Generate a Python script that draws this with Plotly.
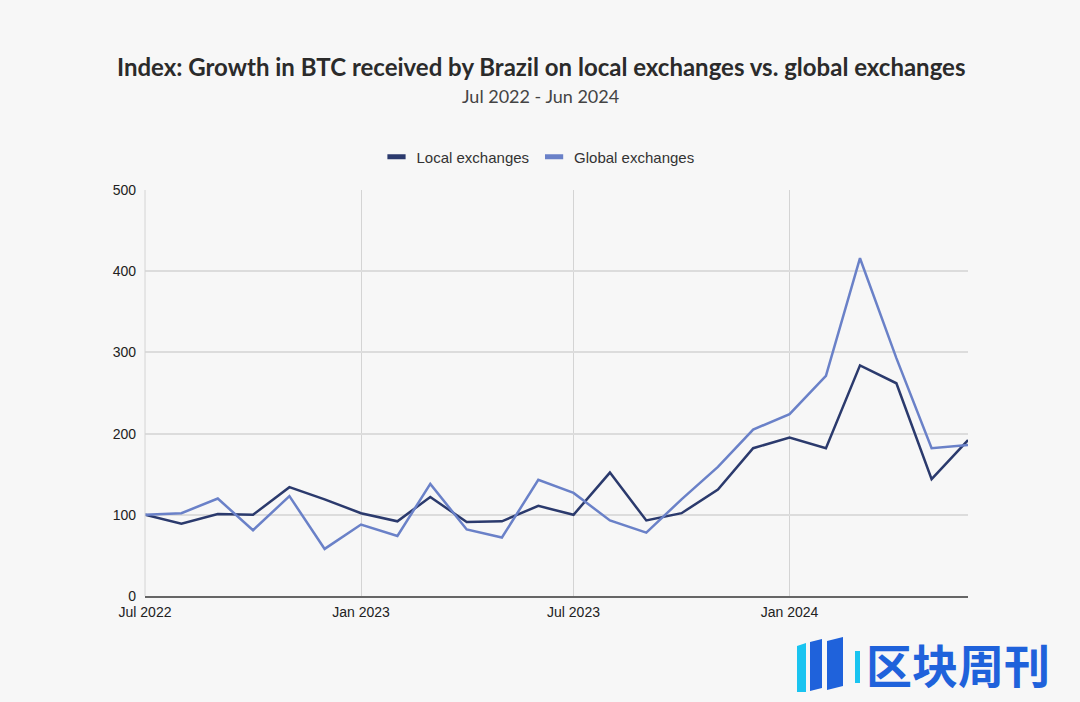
import plotly.graph_objects as go

months = ["2022-07-01","2022-08-01","2022-09-01","2022-10-01","2022-11-01","2022-12-01",
          "2023-01-01","2023-02-01","2023-03-01","2023-04-01","2023-05-01","2023-06-01",
          "2023-07-01","2023-08-01","2023-09-01","2023-10-01","2023-11-01","2023-12-01",
          "2024-01-01","2024-02-01","2024-03-01","2024-04-01","2024-05-01","2024-06-01"]
local_ex = [100, 89, 101, 100, 134, 119, 102, 92, 122, 91, 92, 111,
            100, 152, 93, 102, 131, 182, 195, 182, 284, 262, 144, 192]
global_ex = [100, 102, 120, 81, 123, 58, 88, 74, 138, 82, 72, 143,
             127, 93, 78, 119, 159, 205, 224, 271, 416, 293, 182, 186]
tick_vals = ["2022-07-01", "2023-01-01", "2023-07-01", "2024-01-01"]
tick_text = ["Jul 2022", "Jan 2023", "Jul 2023", "Jan 2024"]

DARK = "#2b3a6d"
LIGHT = "#6a81c8"
BG = "#f7f7f7"

W, H = 1080, 702
ML, MR, MT, MB = 145, 112, 190, 106
PW, PH = W - ML - MR, H - MT - MB


def px(x):
    return (x - ML) / PW


def py(y):
    return (H - MB - y) / PH


fig = go.Figure()
fig.add_trace(go.Scatter(x=months, y=local_ex, mode="lines", name="Local exchanges",
                         line=dict(color=DARK, width=2.5), showlegend=False))
fig.add_trace(go.Scatter(x=months, y=global_ex, mode="lines", name="Global exchanges",
                         line=dict(color=LIGHT, width=2.5), showlegend=False))
for nm, col in [("Local exchanges", DARK), ("Global exchanges", LIGHT)]:
    fig.add_trace(go.Scatter(x=[None], y=[None], mode="markers", name=nm,
                             marker=dict(symbol="line-ew", size=13, color=col,
                                         line=dict(color=col, width=5))))

annotations = [
    dict(text="<b>Index: Growth in BTC received by Brazil on local exchanges vs. global exchanges</b>",
         xref="paper", yref="paper", x=px(541), y=py(67),
         xanchor="center", yanchor="middle", showarrow=False,
         font=dict(family="Lato", size=24, color="#2b2b2b")),
    dict(text="Jul 2022 - Jun 2024", xref="paper", yref="paper", x=px(540), y=py(96),
         xanchor="center", yanchor="middle", showarrow=False,
         font=dict(family="Lato", size=18, color="#444")),
    dict(text="<b>区块周刊</b>", xref="paper", yref="paper", x=px(1052), y=py(663),
         xanchor="right", yanchor="middle", showarrow=False,
         font=dict(family="Noto Sans CJK SC", size=46, color="#1f62db")),
]

shapes = [
    dict(type="line", xref="paper", yref="paper", x0=0, x1=0, y0=0, y1=1,
         line=dict(color="#d4d4d4", width=1)),
]
logo = [
    ([(797, 646), (806, 643), (806, 692), (797, 692)], "#19c4f0"),
    ([(810, 642), (822, 639), (822, 688), (810, 691)], "#1f62db"),
    ([(827, 641), (843, 637), (843, 686), (827, 690)], "#1f62db"),
    ([(855, 651), (860, 651), (860, 683), (855, 683)], "#19c4f0"),
]
for pts, col in logo:
    path = "M " + " L ".join(f"{px(a):.5f},{py(b):.5f}" for a, b in pts) + " Z"
    shapes.append(dict(type="path", xref="paper", yref="paper", path=path,
                       fillcolor=col, line=dict(width=0)))

fig.update_layout(
    width=W, height=H,
    paper_bgcolor=BG, plot_bgcolor=BG,
    margin=dict(l=ML, r=MR, t=MT, b=MB),
    legend=dict(orientation="h", x=px(538), xanchor="center", y=py(157), yanchor="middle",
                font=dict(family="Liberation Sans", size=15, color="#333"),
                itemwidth=30, bgcolor="rgba(0,0,0,0)"),
    font=dict(family="Liberation Sans", size=14, color="#222"),
    annotations=annotations,
    shapes=shapes,
)
fig.update_xaxes(
    range=["2022-07-01", "2024-06-01"], tickvals=tick_vals, ticktext=tick_text,
    showgrid=True, gridcolor="#d4d4d4", gridwidth=1,
    showline=True, linecolor="#666", linewidth=1.5,
    ticks="", ticklabelstandoff=2,
    tickfont=dict(family="Liberation Sans", size=14, color="#222"),
    zeroline=False,
)
fig.update_yaxes(
    range=[0, 500], tickvals=[0, 100, 200, 300, 400, 500],
    showgrid=True, gridcolor="#dcdcdc", gridwidth=1.5,
    zeroline=False, showline=False, ticks="", ticklabelstandoff=8,
    tickfont=dict(family="Liberation Sans", size=14, color="#222"),
)

fig.write_html("out.html", config={"displayModeBar": False},
               post_script="document.body.style.margin='0';document.body.style.background='#f7f7f7';")
